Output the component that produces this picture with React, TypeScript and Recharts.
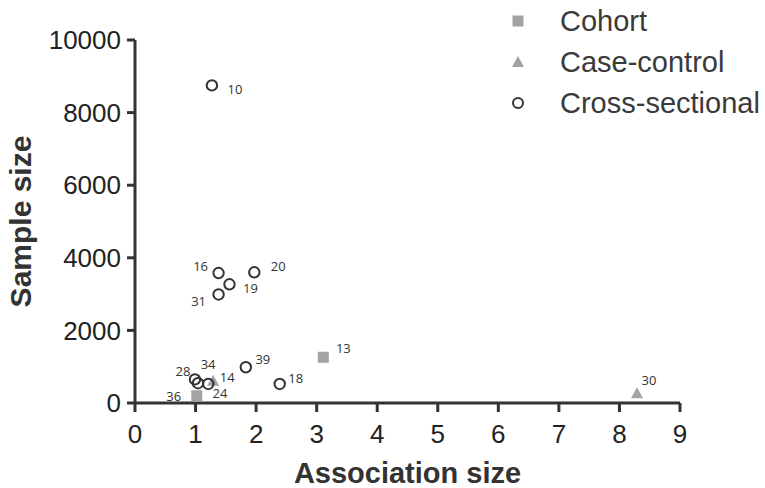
import React from 'react';
import { ScatterChart, Scatter, XAxis, YAxis } from 'recharts';

// study id, association size, sample size
const COHORT = [
  { id: '13', x: 3.11, y: 1260 },
  { id: '36', x: 1.02, y: 200 },
];

const CASE_CONTROL = [
  { id: '34', x: 1.29, y: 615 },
  { id: '30', x: 8.29, y: 270 },
];

const CROSS_SECTIONAL = [
  { id: '10', x: 1.27, y: 8750 },
  { id: '16', x: 1.38, y: 3580 },
  { id: '20', x: 1.97, y: 3600 },
  { id: '19', x: 1.56, y: 3270 },
  { id: '31', x: 1.38, y: 2990 },
  { id: '39', x: 1.83, y: 985 },
  { id: '18', x: 2.39, y: 525 },
  { id: '28', x: 0.99, y: 650 },
  { id: '24', x: 1.04, y: 545 },
  { id: '14', x: 1.21, y: 525 },
];

const X_TICKS = [0, 1, 2, 3, 4, 5, 6, 7, 8, 9];
const Y_TICKS = [0, 2000, 4000, 6000, 8000, 10000];

const SERIES_NAMES = ['Cohort', 'Case-control', 'Cross-sectional'];

// where each study number sits relative to its marker (px)
const LABEL_OFFSETS: Record<string, [number, number]> = {
  '13': [20, -9],
  '36': [-23, 0],
  '34': [-5, -17],
  '30': [12, -13],
  '10': [23, 4],
  '16': [-18, -7],
  '20': [24, -6],
  '19': [21, 4],
  '31': [-20, 7],
  '39': [17, -8],
  '18': [16, -6],
  '28': [-12, -8],
  '24': [22, 10],
  '14': [19, -7],
};

const GREY = '#a3a3a3';
const DARK = '#333333';
const FONT = '"Liberation Sans", Arial, sans-serif';

const pointLabel = (id: string, cx: number, cy: number) => {
  const [dx, dy] = LABEL_OFFSETS[id] || [12, -8];
  return (
    <text
      x={cx + dx}
      y={cy + dy}
      textAnchor="middle"
      dominantBaseline="central"
      fontSize={13}
      fontFamily='"Open Sans", sans-serif'
      fill={DARK}
    >
      {id}
    </text>
  );
};

const SquareShape = (props: any) => {
  const { cx, cy, payload } = props;
  return (
    <g>
      <rect x={cx - 5.5} y={cy - 5.5} width={11} height={11} fill={GREY} />
      {pointLabel(payload.id, cx, cy)}
    </g>
  );
};

const TriangleShape = (props: any) => {
  const { cx, cy, payload } = props;
  return (
    <g>
      <polygon points={`${cx},${cy - 6} ${cx + 6},${cy + 5} ${cx - 6},${cy + 5}`} fill={GREY} />
      {pointLabel(payload.id, cx, cy)}
    </g>
  );
};

const CircleShape = (props: any) => {
  const { cx, cy, payload } = props;
  return (
    <g>
      <circle cx={cx} cy={cy} r={5.2} fill="none" stroke={DARK} strokeWidth={2} />
      {pointLabel(payload.id, cx, cy)}
    </g>
  );
};

// legend drawn outside the chart so it does not shrink the plot area
const LegendBox = () => {
  const rows = [21, 62, 103];
  return (
    <svg width={265} height={125} style={{ position: 'absolute', left: 500, top: 0 }}>
      <rect x={12.5} y={rows[0] - 5.5} width={11} height={11} fill={GREY} />
      <polygon points={`18,${rows[1] - 6} 24,${rows[1] + 5} 12,${rows[1] + 5}`} fill={GREY} />
      <circle cx={18} cy={rows[2]} r={5} fill="none" stroke={DARK} strokeWidth={2} />
      {SERIES_NAMES.map((name, i) => (
        <text key={name} x={60} y={rows[i] + 10} fontSize={29} fontFamily={FONT} fill="#3a3a3a">
          {name}
        </text>
      ))}
    </svg>
  );
};

export default function App() {
  return (
    <div style={{ position: 'absolute', left: 0, top: 0, width: 765, height: 488, background: '#fff' }}>
      <ScatterChart width={765} height={488} margin={{ top: 40, right: 85, bottom: 0, left: 35 }}>
        <XAxis
          type="number"
          dataKey="x"
          domain={[0, 9]}
          ticks={X_TICKS}
          interval={0}
          height={85}
          axisLine={{ stroke: DARK, strokeWidth: 3 }}
          tickLine={{ stroke: DARK, strokeWidth: 3 }}
          tickSize={9}
          tickMargin={13}
          tick={{ fill: '#222', fontSize: 26, fontFamily: FONT }}
          label={{
            content: ({ viewBox }: any) => (
              <text
                x={viewBox.x + viewBox.width / 2}
                y={483}
                textAnchor="middle"
                fontSize={29}
                fontWeight="bold"
                fontFamily={FONT}
                fill={DARK}
              >
                Association size
              </text>
            ),
          }}
        />
        <YAxis
          type="number"
          dataKey="y"
          domain={[0, 10000]}
          ticks={Y_TICKS}
          interval={0}
          width={100}
          axisLine={{ stroke: DARK, strokeWidth: 3 }}
          tickLine={{ stroke: DARK, strokeWidth: 3 }}
          tickSize={8}
          tickMargin={6}
          tick={{ fill: '#222', fontSize: 26, fontFamily: FONT }}
          label={{
            content: ({ viewBox }: any) => (
              <text
                x={31}
                y={viewBox.y + viewBox.height / 2}
                transform={`rotate(-90, 31, ${viewBox.y + viewBox.height / 2})`}
                textAnchor="middle"
                fontSize={30}
                fontWeight="bold"
                fontFamily={FONT}
                fill={DARK}
              >
                Sample size
              </text>
            ),
          }}
        />
        <Scatter name="Cohort" data={COHORT} shape={SquareShape} isAnimationActive={false} />
        <Scatter name="Case-control" data={CASE_CONTROL} shape={TriangleShape} isAnimationActive={false} />
        <Scatter name="Cross-sectional" data={CROSS_SECTIONAL} shape={CircleShape} isAnimationActive={false} />
      </ScatterChart>
      <LegendBox />
    </div>
  );
}
